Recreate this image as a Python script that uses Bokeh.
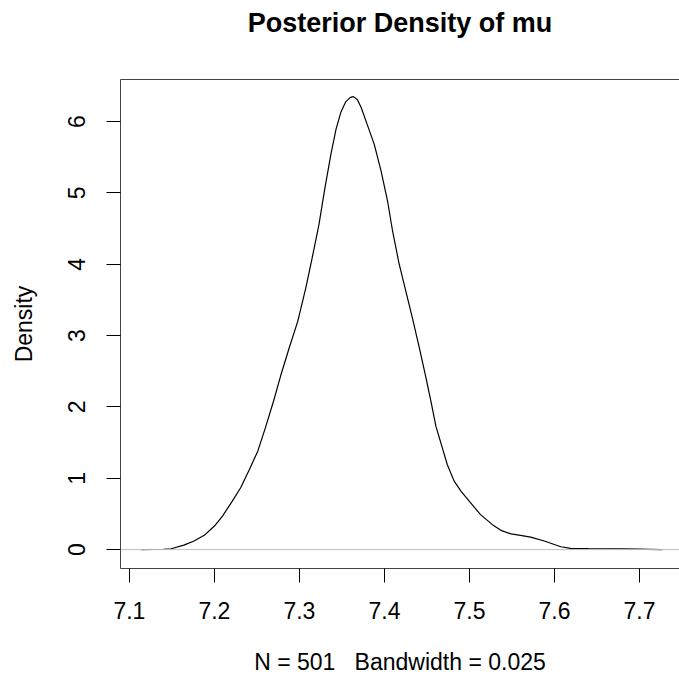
from bokeh.plotting import figure
from bokeh.models import FixedTicker, LinearAxis, Span, Range1d
from bokeh.embed import file_html
from bokeh.resources import INLINE

# Data
mu_grid = [7.114, 7.128, 7.140, 7.149, 7.164, 7.176, 7.188, 7.200, 7.2095, 7.221,
           7.231, 7.241, 7.251, 7.260, 7.2695, 7.278, 7.288, 7.298, 7.3075, 7.315,
           7.323, 7.330, 7.337, 7.343, 7.3487, 7.3546, 7.3600, 7.3636, 7.3680, 7.3725,
           7.380, 7.388, 7.396, 7.4036, 7.4095, 7.417, 7.425, 7.433, 7.441, 7.449,
           7.455, 7.4605, 7.468, 7.474, 7.482, 7.490, 7.4997, 7.513, 7.527, 7.537,
           7.549, 7.560, 7.572, 7.588, 7.6075, 7.619, 7.640, 7.678, 7.700, 7.712, 7.727]
density = [0.0, 0.001, 0.005, 0.012, 0.063, 0.12, 0.20, 0.33, 0.47, 0.68,
           0.87, 1.12, 1.38, 1.71, 2.08, 2.44, 2.83, 3.20, 3.67, 4.09,
           4.56, 5.07, 5.54, 5.89, 6.13, 6.28, 6.34, 6.35, 6.31, 6.20,
           5.95, 5.68, 5.31, 4.89, 4.47, 4.02, 3.63, 3.24, 2.83, 2.40,
           2.06, 1.73, 1.43, 1.19, 0.96, 0.82, 0.68, 0.49, 0.35, 0.27,
           0.22, 0.20, 0.175, 0.12, 0.04, 0.017, 0.013, 0.011, 0.006, 0.003, 0.0]

x_ticks = [7.1, 7.2, 7.3, 7.4, 7.5, 7.6, 7.7]
y_ticks = [0, 1, 2, 3, 4, 5, 6]

title_text = "Posterior Density of mu"
x_label = "N = 501 \u00a0 Bandwidth = 0.025"
y_label = "Density"

FONT = "Liberation Sans"

p = figure(width=679, height=677, output_backend="svg", toolbar_location=None,
           x_range=Range1d(7.0895, 7.7471), y_range=Range1d(-0.265, 6.59),
           min_border_left=120, min_border_right=0, min_border_top=79,
           min_border_bottom=109, x_axis_location=None, y_axis_location=None)
p.outline_line_color = None
p.grid.visible = False
p.background_fill_color = "white"
p.border_fill_color = "white"

p.line(mu_grid, density, line_color="black", line_width=1.2)
p.add_layout(Span(location=0, dimension="width", line_color="#bebebe", line_width=1))

xax = LinearAxis(ticker=FixedTicker(ticks=x_ticks), axis_label=x_label)
yax = LinearAxis(ticker=FixedTicker(ticks=y_ticks), axis_label=y_label)
for ax in (xax, yax):
    ax.axis_line_color = "#444444"
    ax.axis_line_width = 1
    ax.major_tick_line_color = "black"
    ax.major_tick_line_width = 1
    ax.major_tick_out = 14
    ax.major_tick_in = 0
    ax.minor_tick_line_color = None
    ax.major_label_text_font = FONT
    ax.major_label_text_font_size = "23px"
    ax.major_label_text_color = "black"
    ax.axis_label_text_font = FONT
    ax.axis_label_text_font_size = "23px"
    ax.axis_label_text_font_style = "normal"
    ax.axis_label_text_color = "black"
xax.major_label_standoff = 19
xax.axis_label_standoff = 27
yax.major_label_standoff = 21
yax.axis_label_standoff = 29
yax.major_label_orientation = "vertical"

# top edge of the box; one invisible tick reserves space that lifts the title
topax = LinearAxis(ticker=FixedTicker(ticks=[x_ticks[3]]))
topax.major_label_overrides = {x_ticks[3]: ""}
topax.axis_line_color = "#444444"
topax.major_tick_line_color = None
topax.minor_tick_line_color = None
topax.major_tick_out = 37
topax.major_tick_in = 0
topax.major_label_standoff = 0
topax.major_label_text_font_size = "1px"

p.add_layout(xax, "below")
p.add_layout(yax, "left")
p.add_layout(topax, "above")

p.title.text = title_text
p.title.text_font = FONT
p.title.text_font_size = "27px"
p.title.text_font_style = "bold"
p.title.text_color = "black"
p.title.align = "center"
p.title.standoff = 10

open("out.html", "w").write(file_html(p, INLINE))
